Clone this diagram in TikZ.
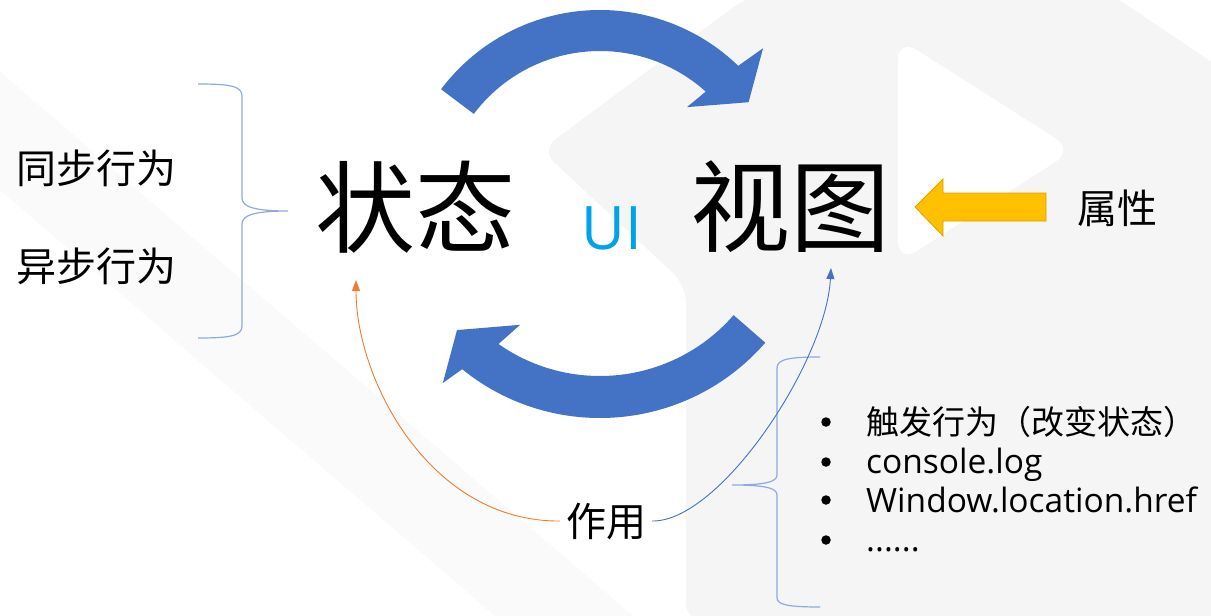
\documentclass[tikz,border=0pt]{standalone}
\usepackage{fontspec}
\usetikzlibrary{arrows.meta}
\newfontfamily\cjk{Noto Sans CJK SC}
\newfontfamily\latin{Open Sans}
\definecolor{pptblue}{HTML}{4472C4}
\definecolor{bracecol}{HTML}{8FAADC}
\definecolor{uicyan}{RGB}{0,162,232}
\definecolor{arrorange}{HTML}{ED7D31}
\definecolor{gold}{HTML}{FFC000}
\definecolor{goldedge}{HTML}{D9A300}
\definecolor{wm}{HTML}{F5F5F6}
\definecolor{wmlow}{HTML}{FAFAFA}
\tikzset{
  bigtext/.style={inner sep=0pt, font=\cjk\fontsize{100}{110}\selectfont},
  sidetext/.style={inner sep=0pt, font=\cjk\fontsize{40}{48}\selectfont},
  bullettext/.style={inner sep=0pt, anchor=base west, font=\cjk\fontsize{33}{40}\selectfont},
  latintext/.style={inner sep=0pt, anchor=base west, font=\latin\fontsize{33.5}{40}\selectfont},
  brace/.style={draw=bracecol, line width=1.2pt},
  thinarrow/.style={line width=0.9pt, -{Triangle[length=11pt,width=8pt]}},
  bigarrow/.style={fill=pptblue, draw=none},
  bulletdot/.style={circle, fill=black, draw=none, inner sep=0pt, minimum size=9.5pt}
}
\begin{document}
\begin{tikzpicture}[x=1pt,y=-1pt]
\useasboundingbox (0,0) rectangle (1211,616);
\fill[white] (0,0) rectangle (1211,616);
% faint watermark
\fill[wmlow] (0,72) -- (633,616) -- (495,616) -- (0,190) -- cycle;
\fill[wm, rounded corners=18pt] (750,-5) -- (1216,-5) -- (1216,621) -- (686,621) -- (686,285) -- (541,150) -- cycle;
\fill[white] (1118,-1) -- (1212,-1) -- (1212,62) -- cycle;
\fill[white, rounded corners=22pt] (898,38) -- (1074,150) -- (898,263) -- cycle;

% big circular arrows
\begin{scope}[shift={(600,209)}]
  \path[bigarrow] (-143:158) -- (-143:199) arc[start angle=-143, end angle=-46, radius=199]
    -- (-44.6:229) -- (-35.7:183) -- (-49.5:134) -- (-48:158)
    arc[start angle=-48, end angle=-143, radius=158] -- cycle;
\end{scope}
\begin{scope}[shift={(600,199)}]
  \path[bigarrow] (41:177) -- (41:219) arc[start angle=41, end angle=129, radius=219]
    -- (130.5:242) -- (137.5:194) -- (122.4:149) -- (125:177)
    arc[start angle=125, end angle=41, radius=177] -- cycle;
\end{scope}

% main texts
\node[bigtext] (state) at (415,207) {状态};
\node[bigtext] (view) at (790,207) {视图};
\node[inner sep=0pt, text=uicyan, font=\latin\fontsize{60}{66}\selectfont] (ui) at (612,228) {UI};

\node[sidetext, anchor=west] (sync) at (16,168) {同步行为};
\node[sidetext, anchor=west] (async) at (16,266) {异步行为};
\node[sidetext] (attr) at (1117,208) {属性};
\node[sidetext] (effect) at (606,521) {作用};

% left brace
\draw[brace] (198,84) .. controls (230,84) and (242,86) .. (242,96) -- (242,198)
  .. controls (242,207) and (255,211) .. (288,211)
  .. controls (255,211) and (242,215) .. (242,224) -- (242,326)
  .. controls (242,336) and (230,338) .. (198,338);

% right brace
\draw[brace] (820,357) .. controls (790,357) and (777,359) .. (777,368) -- (777,475)
  .. controls (777,482) and (765,485) .. (732,485)
  .. controls (765,485) and (777,488) .. (777,495) -- (777,598)
  .. controls (777,605) and (790,607) .. (820,607);

% yellow block arrow
\filldraw[fill=gold, draw=goldedge, line width=0.8pt] (915,207) -- (943,179) -- (943,193) -- (1046,193)
  -- (1046,221) -- (943,221) -- (943,236) -- cycle;

% thin curved arrows
\coordinate (stateTip) at (356,280);
\coordinate (viewTip) at (831,268);
\path (effect.west) ++(-6,0) coordinate (eW);
\path (effect.east) ++(6,0) coordinate (eE);
\draw[thinarrow, draw=arrorange] (eW) .. controls (430,522) and (356,380) .. (stateTip);
\draw[thinarrow, draw=pptblue] (eE) .. controls (720,522) and (826,362) .. (viewTip);

% bullet list
\node[bulletdot] (b1) at (826,422) {};
\node[bulletdot] (b2) at (826,462) {};
\node[bulletdot] (b3) at (826,500) {};
\node[bulletdot] (b4) at (826,540) {};
\node[bullettext] (t1) at (866,434) {触发行为（改变状态）};
\node[latintext] (t2) at (866,473) {console.log};
\node[latintext] (t3) at (866,512) {Window.location.href};
\node[latintext] (t4) at (866,551) {......};
\end{tikzpicture}
\end{document}
